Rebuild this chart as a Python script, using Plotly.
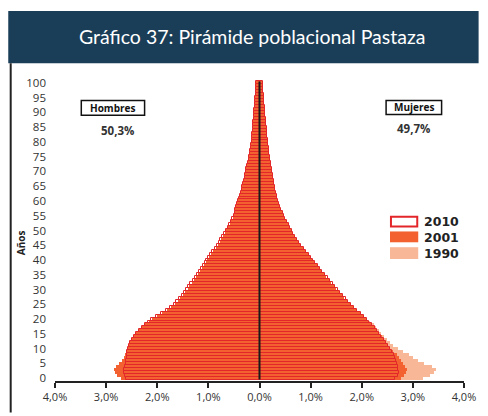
import plotly.graph_objects as go

ages = list(range(0, 101))

# Percent of total population by single year of age
hombres_2010 = [2.62, 2.64, 2.66, 2.65, 2.63, 2.62, 2.61, 2.60, 2.60, 2.59, 2.58, 2.56, 2.54, 2.50, 2.46,
                2.42, 2.36, 2.30, 2.24, 2.18, 2.12, 2.03, 1.93, 1.83, 1.75, 1.68, 1.63, 1.57, 1.52, 1.47,
                1.43, 1.39, 1.35, 1.31, 1.27, 1.23, 1.19, 1.15, 1.11, 1.07, 1.04, 1.00, 0.96, 0.92, 0.88,
                0.84, 0.80, 0.77, 0.73, 0.69, 0.66, 0.62, 0.59, 0.56, 0.53, 0.50, 0.48, 0.47, 0.45, 0.44,
                0.42, 0.41, 0.39, 0.37, 0.35, 0.34, 0.32, 0.31, 0.29, 0.28, 0.27, 0.26, 0.24, 0.23, 0.21,
                0.20, 0.19, 0.18, 0.17, 0.16, 0.15, 0.15, 0.14, 0.14, 0.13, 0.13, 0.12, 0.12, 0.11, 0.11,
                0.10, 0.10, 0.09, 0.09, 0.08, 0.08, 0.07, 0.07, 0.06, 0.06, 0.07]
hombres_2001 = [2.70, 2.78, 2.82, 2.84, 2.80, 2.74, 2.68, 2.66, 2.64, 2.62, 2.60, 2.57, 2.54, 2.49, 2.45,
                2.41, 2.35, 2.29, 2.23, 2.17, 2.11, 2.01, 1.91, 1.81, 1.73, 1.65, 1.60, 1.55, 1.50, 1.45,
                1.40, 1.37, 1.33, 1.29, 1.25, 1.21, 1.17, 1.13, 1.09, 1.05, 1.02, 0.98, 0.94, 0.90, 0.86,
                0.82, 0.78, 0.75, 0.71, 0.68, 0.65, 0.62, 0.58, 0.55, 0.52, 0.50, 0.48, 0.47, 0.45, 0.44,
                0.42, 0.41, 0.39, 0.37, 0.35, 0.34, 0.32, 0.31, 0.29, 0.28, 0.27, 0.26, 0.24, 0.23, 0.21,
                0.20, 0.19, 0.18, 0.17, 0.16, 0.15, 0.15, 0.14, 0.14, 0.13, 0.13, 0.12, 0.12, 0.11, 0.11,
                0.10, 0.10, 0.09, 0.09, 0.08, 0.08, 0.07, 0.07, 0.06, 0.06, 0.07]
hombres_1990 = [2.66, 2.72, 2.76, 2.78, 2.74, 2.68, 2.63, 2.60, 2.58, 2.55, 2.52, 2.48, 2.44, 2.40, 2.36,
                2.32, 2.26, 2.20, 2.14, 2.08, 2.00, 1.90, 1.80, 1.70, 1.62, 1.54, 1.48, 1.42, 1.37, 1.32,
                1.27, 1.23, 1.19, 1.15, 1.11, 1.07, 1.03, 0.99, 0.95, 0.91, 0.88, 0.84, 0.80, 0.77, 0.73,
                0.70, 0.67, 0.64, 0.61, 0.58, 0.55, 0.52, 0.50, 0.48, 0.46, 0.44, 0.42, 0.41, 0.39, 0.38,
                0.36, 0.35, 0.33, 0.32, 0.30, 0.29, 0.27, 0.26, 0.25, 0.24, 0.23, 0.22, 0.20, 0.19, 0.18,
                0.17, 0.16, 0.15, 0.14, 0.14, 0.13, 0.13, 0.12, 0.12, 0.11, 0.11, 0.10, 0.10, 0.09, 0.09,
                0.08, 0.08, 0.08, 0.07, 0.07, 0.06, 0.06, 0.05, 0.05, 0.05, 0.05]

mujeres_2010 = [2.66, 2.70, 2.72, 2.71, 2.70, 2.68, 2.67, 2.66, 2.63, 2.59, 2.55, 2.51, 2.47, 2.43, 2.38,
                2.34, 2.30, 2.25, 2.20, 2.15, 2.10, 2.04, 1.98, 1.91, 1.85, 1.79, 1.74, 1.69, 1.64, 1.58,
                1.53, 1.48, 1.43, 1.38, 1.33, 1.28, 1.23, 1.18, 1.14, 1.09, 1.05, 1.00, 0.96, 0.91, 0.87,
                0.82, 0.78, 0.74, 0.70, 0.66, 0.63, 0.60, 0.57, 0.53, 0.50, 0.47, 0.45, 0.43, 0.41, 0.39,
                0.37, 0.35, 0.34, 0.32, 0.31, 0.30, 0.29, 0.28, 0.27, 0.26, 0.25, 0.24, 0.23, 0.22, 0.21,
                0.20, 0.19, 0.18, 0.18, 0.17, 0.17, 0.16, 0.15, 0.15, 0.14, 0.14, 0.13, 0.12, 0.12, 0.11,
                0.11, 0.10, 0.10, 0.09, 0.09, 0.08, 0.08, 0.07, 0.07, 0.06, 0.07]
mujeres_2001 = [2.76, 2.82, 2.86, 2.88, 2.84, 2.80, 2.76, 2.72, 2.68, 2.62, 2.56, 2.52, 2.48, 2.44, 2.39,
                2.34, 2.30, 2.25, 2.20, 2.15, 2.10, 2.03, 1.96, 1.89, 1.83, 1.77, 1.72, 1.66, 1.61, 1.55,
                1.50, 1.45, 1.40, 1.35, 1.30, 1.26, 1.21, 1.16, 1.12, 1.07, 1.03, 0.98, 0.94, 0.90, 0.85,
                0.81, 0.77, 0.73, 0.69, 0.65, 0.62, 0.59, 0.56, 0.52, 0.49, 0.46, 0.44, 0.42, 0.40, 0.38,
                0.37, 0.35, 0.34, 0.32, 0.31, 0.30, 0.29, 0.28, 0.27, 0.26, 0.25, 0.24, 0.23, 0.22, 0.21,
                0.20, 0.19, 0.18, 0.18, 0.17, 0.17, 0.16, 0.15, 0.15, 0.14, 0.14, 0.13, 0.12, 0.12, 0.11,
                0.11, 0.10, 0.10, 0.09, 0.09, 0.08, 0.08, 0.07, 0.07, 0.06, 0.07]
mujeres_1990 = [3.20, 3.34, 3.42, 3.46, 3.38, 3.22, 3.10, 3.00, 2.92, 2.80, 2.70, 2.62, 2.56, 2.49, 2.43,
                2.38, 2.33, 2.28, 2.23, 2.17, 2.10, 2.00, 1.90, 1.80, 1.72, 1.64, 1.58, 1.52, 1.47, 1.42,
                1.37, 1.33, 1.28, 1.24, 1.20, 1.16, 1.11, 1.07, 1.03, 0.99, 0.95, 0.91, 0.87, 0.83, 0.79,
                0.75, 0.71, 0.68, 0.64, 0.61, 0.58, 0.55, 0.52, 0.49, 0.46, 0.44, 0.42, 0.40, 0.38, 0.36,
                0.35, 0.33, 0.32, 0.30, 0.29, 0.28, 0.27, 0.26, 0.25, 0.24, 0.23, 0.22, 0.21, 0.20, 0.19,
                0.18, 0.17, 0.16, 0.16, 0.15, 0.15, 0.14, 0.13, 0.13, 0.12, 0.12, 0.11, 0.11, 0.10, 0.10,
                0.09, 0.09, 0.08, 0.08, 0.08, 0.07, 0.07, 0.06, 0.06, 0.06, 0.06]

x_ticks = [-4, -3, -2, -1, 0, 1, 2, 3, 4]
x_tick_labels = ["4,0%", "3,0%", "2,0%", "1,0%", "0,0%", "1,0%", "2,0%", "3,0%", "4,0%"]
y_ticks = list(range(0, 101, 5))

title_text = "Gráfico 37: Pirámide poblacional Pastaza"
pct_hombres = "50,3%"
pct_mujeres = "49,7%"

C_2010_LINE = "#e3262a"
C_2001 = "#f2612f"
C_1990 = "#f8b898"
NAVY = "#1b3e58"
TXT = "#333333"

W, H = 488, 416
ML, MR, MT, MB = 55, 13, 77, 30
PW, PH = W - ML - MR, H - MT - MB


def px(x):
    return (x - ML) / PW


def py(y):
    return (H - MB - y) / PH


fig = go.Figure()


def add_pair(h, m, name, width, color, line_color, line_w):
    fig.add_trace(go.Bar(y=ages, x=[-v for v in h], orientation="h", name=name, width=width,
                         marker=dict(color=color, line=dict(color=line_color, width=line_w)),
                         showlegend=False))
    fig.add_trace(go.Bar(y=ages, x=m, orientation="h", name=name, width=width,
                         marker=dict(color=color, line=dict(color=line_color, width=line_w)),
                         showlegend=False))


add_pair(hombres_1990, mujeres_1990, "1990", 1.0, C_1990, C_1990, 0)
add_pair(hombres_2001, mujeres_2001, "2001", 1.0, C_2001, C_2001, 0)
add_pair(hombres_2010, mujeres_2010, "2010", 1.0, "rgba(255,255,255,0)", C_2010_LINE, 1.0)

shapes = []
# Title bar
shapes.append(dict(type="rect", xref="paper", yref="paper", x0=px(7), x1=px(490), y0=py(63), y1=py(10),
                   fillcolor=NAVY, line=dict(width=0), layer="above"))
# Left frame line
shapes.append(dict(type="line", xref="paper", yref="paper", x0=px(9.5), x1=px(9.5), y0=py(418), y1=py(63),
                   line=dict(color="#222", width=2)))
# Zero line
shapes.append(dict(type="line", xref="x", yref="y", x0=0, x1=0, y0=-0.5, y1=100.5,
                   line=dict(color="#1a1a1a", width=2), layer="above"))
# Hombres / Mujeres boxes
shapes.append(dict(type="rect", xref="paper", yref="paper", x0=px(82), x1=px(147), y0=py(116), y1=py(101),
                   line=dict(color="#111", width=1.5), fillcolor="white"))
shapes.append(dict(type="rect", xref="paper", yref="paper", x0=px(395), x1=px(452), y0=py(115), y1=py(101),
                   line=dict(color="#111", width=1.5), fillcolor="white"))
# Legend swatches
shapes.append(dict(type="rect", xref="paper", yref="paper", x0=px(400), x1=px(427), y0=py(229), y1=py(219),
                   line=dict(color=C_2010_LINE, width=2), fillcolor="white"))
shapes.append(dict(type="rect", xref="paper", yref="paper", x0=px(399), x1=px(428), y0=py(245), y1=py(234),
                   line=dict(width=0), fillcolor=C_2001))
shapes.append(dict(type="rect", xref="paper", yref="paper", x0=px(399), x1=px(428), y0=py(262), y1=py(250),
                   line=dict(width=0), fillcolor=C_1990))

ann = []
ann.append(dict(text=title_text, xref="paper", yref="paper", x=px(257), y=py(36), showarrow=False,
                font=dict(family="Lato, Open Sans, sans-serif", size=19.5, color="white"),
                xanchor="center", yanchor="middle"))
ann.append(dict(text="<b>Hombres</b>", xref="paper", yref="paper", x=px(114.5), y=py(108.5), showarrow=False,
                font=dict(family="Open Sans, sans-serif", size=10, color="#111"), xanchor="center", yanchor="middle"))
ann.append(dict(text="<b>Mujeres</b>", xref="paper", yref="paper", x=px(423.5), y=py(108), showarrow=False,
                font=dict(family="Open Sans, sans-serif", size=10, color="#111"), xanchor="center", yanchor="middle"))
ann.append(dict(text="<b>" + pct_hombres + "</b>", xref="paper", yref="paper", x=px(119), y=py(131), showarrow=False,
                font=dict(family="Open Sans, sans-serif", size=11.5, color=TXT), xanchor="center", yanchor="middle"))
ann.append(dict(text="<b>" + pct_mujeres + "</b>", xref="paper", yref="paper", x=px(423), y=py(129), showarrow=False,
                font=dict(family="Open Sans, sans-serif", size=11.5, color=TXT), xanchor="center", yanchor="middle"))
ann.append(dict(text="<b>Años</b>", xref="paper", yref="paper", x=px(20), y=py(245), showarrow=False, textangle=-90,
                font=dict(family="Open Sans, sans-serif", size=10, color="#222"), xanchor="center", yanchor="middle"))
for label, yy in [("2010", 224), ("2001", 240), ("1990", 256)]:
    ann.append(dict(text="<b>" + label + "</b>", xref="paper", yref="paper", x=px(432), y=py(yy), showarrow=False,
                    font=dict(family="DejaVu Sans, sans-serif", size=12.5, color="#222"), xanchor="left",
                    yanchor="middle"))

fig.update_layout(
    width=W, height=H,
    margin=dict(l=ML, r=MR, t=MT, b=MB),
    paper_bgcolor="white", plot_bgcolor="white",
    barmode="overlay",
    bargap=0,
    shapes=shapes,
    annotations=ann,
    xaxis=dict(range=[-4, 4], tickvals=x_ticks, ticktext=x_tick_labels, showgrid=False, zeroline=False,
               showline=True, linecolor="#222", linewidth=1.5, ticks="outside", ticklen=5, tickwidth=1.5,
               tickcolor="#222", tickfont=dict(family="Open Sans, sans-serif", size=11, color=TXT),
               fixedrange=True),
    yaxis=dict(range=[-1, 102], tickvals=y_ticks, showgrid=False, zeroline=False, showline=False,
               ticks="", ticklabelstandoff=8,
               tickfont=dict(family="Open Sans, sans-serif", size=11.5, color=TXT), fixedrange=True),
)

fig.write_html("out.html", config={"displayModeBar": False},
               post_script="document.body.style.margin='0px';document.body.style.overflow='hidden';")
